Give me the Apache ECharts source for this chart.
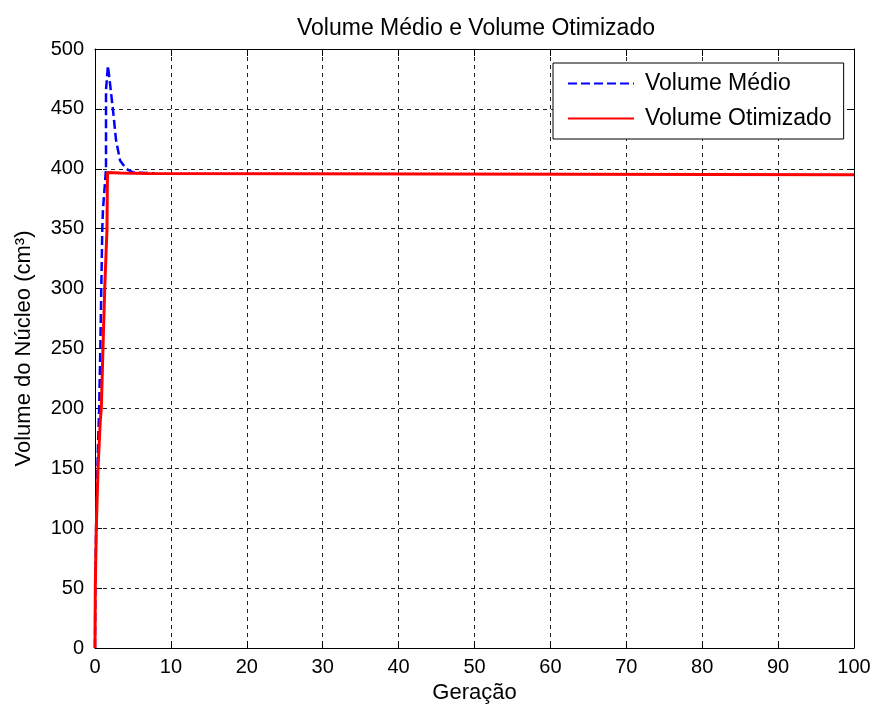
<!DOCTYPE html>
<html>
<head>
<meta charset="utf-8">
<script src="https://cdn.jsdelivr.net/npm/echarts@6/dist/echarts.min.js"></script>
<style>html,body{margin:0;padding:0;background:#fff;}#c{width:874px;height:711px;}</style>
</head>
<body>
<div id="c"></div>
<script>
var titleText = 'Volume Médio e Volume Otimizado';
var xName = 'Geração';
var yName = 'Volume do Núcleo (cm³)';
var seriesNames = ['Volume Médio', 'Volume Otimizado'];

var medioGen = [0, 0.05, 0.17, 0.4, 0.55, 0.7, 0.83, 0.96, 1.05, 1.45, 1.45, 1.7, 2.0, 2.37, 2.77, 3.3, 4.1, 5.0, 7.0, 7.9];
var medioVal = [0, 55, 110, 170, 200, 250, 300, 350, 366, 400, 466, 486, 470, 449, 424, 407, 400, 397, 396.5, 396];

var otimGen = [0, 0.04, 0.17, 0.4, 0.7, 0.83, 1.05, 1.28, 1.58, 1.62, 1.65, 3.3, 7.0, 7.0, 100];
var otimVal = [0, 50, 100, 150, 190, 200, 250, 300, 350, 382, 397, 396.5, 396, 395, 395];

function pairs(xs, ys) { return xs.map(function (x, i) { return [x, ys[i]]; }); }

var FONT = 'Liberation Sans, Arial, sans-serif';
var chart = echarts.init(document.getElementById('c'));
chart.setOption({
  animation: false,
  backgroundColor: '#fff',
  title: {
    text: titleText, left: 292, top: 12,
    textStyle: { fontFamily: FONT, fontSize: 23, fontWeight: 'normal', color: '#000' }
  },
  legend: {
    orient: 'vertical', left: 553, top: 63,
    padding: [9, 12, 9, 14], itemGap: 12,
    itemWidth: 66, itemHeight: 14,
    itemStyle: { opacity: 0 },
    backgroundColor: '#fff', borderColor: '#000', borderWidth: 1,
    textStyle: { fontFamily: FONT, fontSize: 23, color: '#000', padding: [0, 0, 0, 6] },
    data: seriesNames
  },
  grid: { left: 95, right: 20, top: 49, bottom: 63, containLabel: false },
  xAxis: [{
    type: 'value', min: 0, max: 100, interval: 10,
    name: xName, nameLocation: 'middle', nameGap: 34,
    nameTextStyle: { fontFamily: FONT, fontSize: 22, color: '#000' },
    axisLine: { onZero: false, lineStyle: { color: '#000', width: 1 } },
    axisTick: { inside: true, length: 7, lineStyle: { color: '#000' } },
    axisLabel: { fontFamily: FONT, fontSize: 20, color: '#000', margin: 9 },
    splitLine: { show: true, lineStyle: { color: '#222', width: 1, type: [4, 4] } }
  }, {
    type: 'value', min: 0, max: 100, interval: 10, position: 'top',
    axisLine: { onZero: false, lineStyle: { color: '#000', width: 1 } },
    axisTick: { inside: true, length: 7, lineStyle: { color: '#000' } },
    axisLabel: { show: false }, splitLine: { show: false }
  }],
  yAxis: [{
    type: 'value', min: 0, max: 500, interval: 50,
    name: yName, nameLocation: 'middle', nameGap: 60, nameRotate: 90,
    nameTextStyle: { fontFamily: FONT, fontSize: 22, color: '#000' },
    axisLine: { show: true, onZero: false, lineStyle: { color: '#000', width: 1 } },
    axisTick: { show: true, inside: true, length: 7, lineStyle: { color: '#000' } },
    axisLabel: { fontFamily: FONT, fontSize: 20, color: '#000', margin: 11 },
    splitLine: { show: true, lineStyle: { color: '#222', width: 1, type: [4, 4] } }
  }, {
    type: 'value', min: 0, max: 500, interval: 50, position: 'right',
    axisLine: { show: true, onZero: false, lineStyle: { color: '#000', width: 1 } },
    axisTick: { show: true, inside: true, length: 7, lineStyle: { color: '#000' } },
    axisLabel: { show: false }, splitLine: { show: false }
  }],
  series: [{
    name: seriesNames[0], type: 'line', symbol: 'none', z: 3,
    data: pairs(medioGen, medioVal),
    itemStyle: { color: '#0000ff' },
    lineStyle: { color: '#0000ff', width: 2.5, type: [9, 4] }
  }, {
    name: seriesNames[1], type: 'line', symbol: 'none', z: 4,
    data: pairs(otimGen, otimVal),
    itemStyle: { color: '#ff0000' },
    lineStyle: { color: '#ff0000', width: 3 }
  }]
});
</script>
</body>
</html>
